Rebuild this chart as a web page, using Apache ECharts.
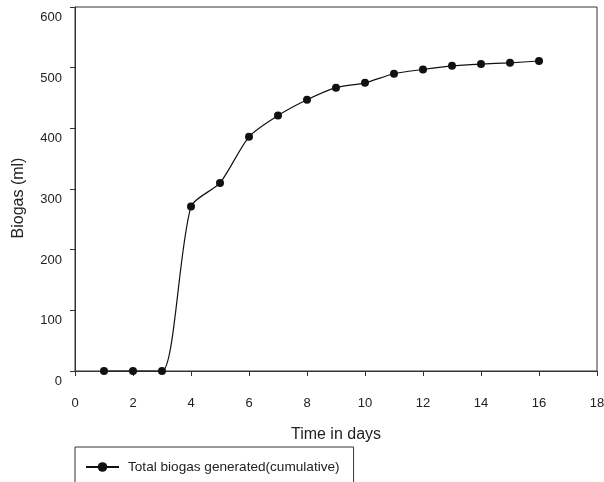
<!DOCTYPE html>
<html>
<head>
<meta charset="utf-8">
<script src="https://cdn.jsdelivr.net/npm/echarts@6/dist/echarts.min.js"></script>
<style>
html,body{margin:0;padding:0;background:#fff;}
#chart{width:604px;height:482px;}
</style>
</head>
<body>
<div id="chart"></div>
<script>
var days = [1, 2, 3, 4, 5, 6, 7, 8, 9, 10, 11, 12, 13, 14, 15, 16];
var biogas = [0, 0, 0, 271, 310, 386, 421, 447, 467, 475, 490, 497, 503, 506, 508, 511];
var seriesName = 'Total biogas generated(cumulative)';
var xTitle = 'Time in days';
var yTitle = 'Biogas (ml)';

var FONT = '"Liberation Sans", Arial, sans-serif';
var pts = days.map(function (d, i) { return [d, biogas[i]]; });

var chart = echarts.init(document.getElementById('chart'), null, {renderer: 'canvas'});
chart.setOption({
  animation: false,
  backgroundColor: '#fff',
  grid: {
    left: 75, right: 7, top: 7, bottom: 111,
    outerBoundsMode: 'none', containLabel: false,
    show: true, borderColor: '#333', borderWidth: 1, backgroundColor: 'transparent'
  },
  legend: {
    left: 75, top: 447,
    padding: [13, 14, 30, 10],
    borderColor: '#333', borderWidth: 1, borderRadius: 0,
    itemWidth: 33, itemHeight: 12,
    textStyle: {fontFamily: FONT, fontSize: 13.6, color: '#222', padding: [0, 0, 0, 4]},
    data: [{name: seriesName}]
  },
  xAxis: {
    type: 'value', min: 0, max: 18, interval: 2,
    name: xTitle, nameLocation: 'middle', nameGap: 56,
    nameTextStyle: {fontFamily: FONT, fontSize: 16, color: '#222'},
    axisLine: {show: true, onZero: false, lineStyle: {color: '#333', width: 1}},
    axisTick: {show: true, inside: false, length: 5, lineStyle: {color: '#333'}},
    axisLabel: {fontFamily: FONT, fontSize: 13, color: '#222', margin: 26},
    splitLine: {show: false}
  },
  yAxis: {
    type: 'value', min: 0, max: 600, interval: 100,
    name: yTitle, nameLocation: 'middle', nameGap: 48, nameRotate: 90,
    nameTextStyle: {fontFamily: FONT, fontSize: 16, color: '#222', padding: [0, 18, 0, 0]},
    axisLine: {show: true, lineStyle: {color: '#333', width: 1}},
    axisTick: {show: true, inside: false, length: 5, lineStyle: {color: '#333'}},
    axisLabel: {fontFamily: FONT, fontSize: 13, color: '#222', margin: 13, verticalAlign: 'top', padding: [4, 0, 0, 0]},
    splitLine: {show: false}
  },
  series: [{
    name: seriesName,
    type: 'line',
    data: pts,
    smooth: 0.25,
    symbol: 'circle',
    symbolSize: 8,
    showSymbol: true,
    itemStyle: {color: '#111'},
    lineStyle: {color: '#111', width: 1.2}
  }]
});
</script>
</body>
</html>
